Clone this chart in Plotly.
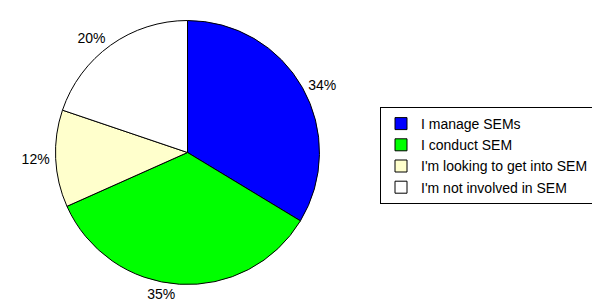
import plotly.graph_objects as go

labels = ["I manage SEMs", "I conduct SEM", "I'm looking to get into SEM", "I'm not involved in SEM"]
values = [34, 35, 12, 20]
colors = ["#0000FF", "#00FF00", "#FFFFCC", "#FFFFFF"]

W, H = 600, 301
cx, cy, r = 179.5, 144.5, 132
r_lab = 134  # radius used only to place the outside percentage labels

FONT = "Arial, Liberation Sans, sans-serif"


def dom(rad):
    return dict(x=[(cx - rad) / W, (cx + rad) / W],
                y=[(H - cy - rad) / H, (H - cy + rad) / H])


fig = go.Figure()

# the visible pie
fig.add_trace(go.Pie(
    labels=labels,
    values=values,
    sort=False,
    direction="clockwise",
    rotation=0,
    marker=dict(colors=colors, line=dict(color="#000000", width=1)),
    textinfo="none",
    hoverinfo="label+percent",
    domain=dom(r),
    showlegend=True,
))

# transparent twin pie carrying the percentage labels a bit further out
fig.add_trace(go.Pie(
    labels=labels,
    values=values,
    sort=False,
    direction="clockwise",
    rotation=0,
    marker=dict(colors=["rgba(0,0,0,0)"] * len(labels), line=dict(width=0)),
    textposition="outside",
    texttemplate="%{percent:.0%}",
    textfont=dict(family=FONT, size=14, color="#000000"),
    hoverinfo="skip",
    domain=dom(r_lab),
    showlegend=False,
))

fig.update_layout(
    width=W, height=H,
    margin=dict(l=0, r=0, t=0, b=0),
    paper_bgcolor="#FFFFFF",
    plot_bgcolor="#FFFFFF",
    showlegend=True,
    legend=dict(
        x=372 / W, y=(H - 99) / H, xanchor="left", yanchor="top",
        bordercolor="#000000", borderwidth=1, bgcolor="#FFFFFF",
        font=dict(family=FONT, size=14, color="#000000"),
        itemwidth=30, tracegroupgap=0,
    ),
)

fig.write_html("out.html")
